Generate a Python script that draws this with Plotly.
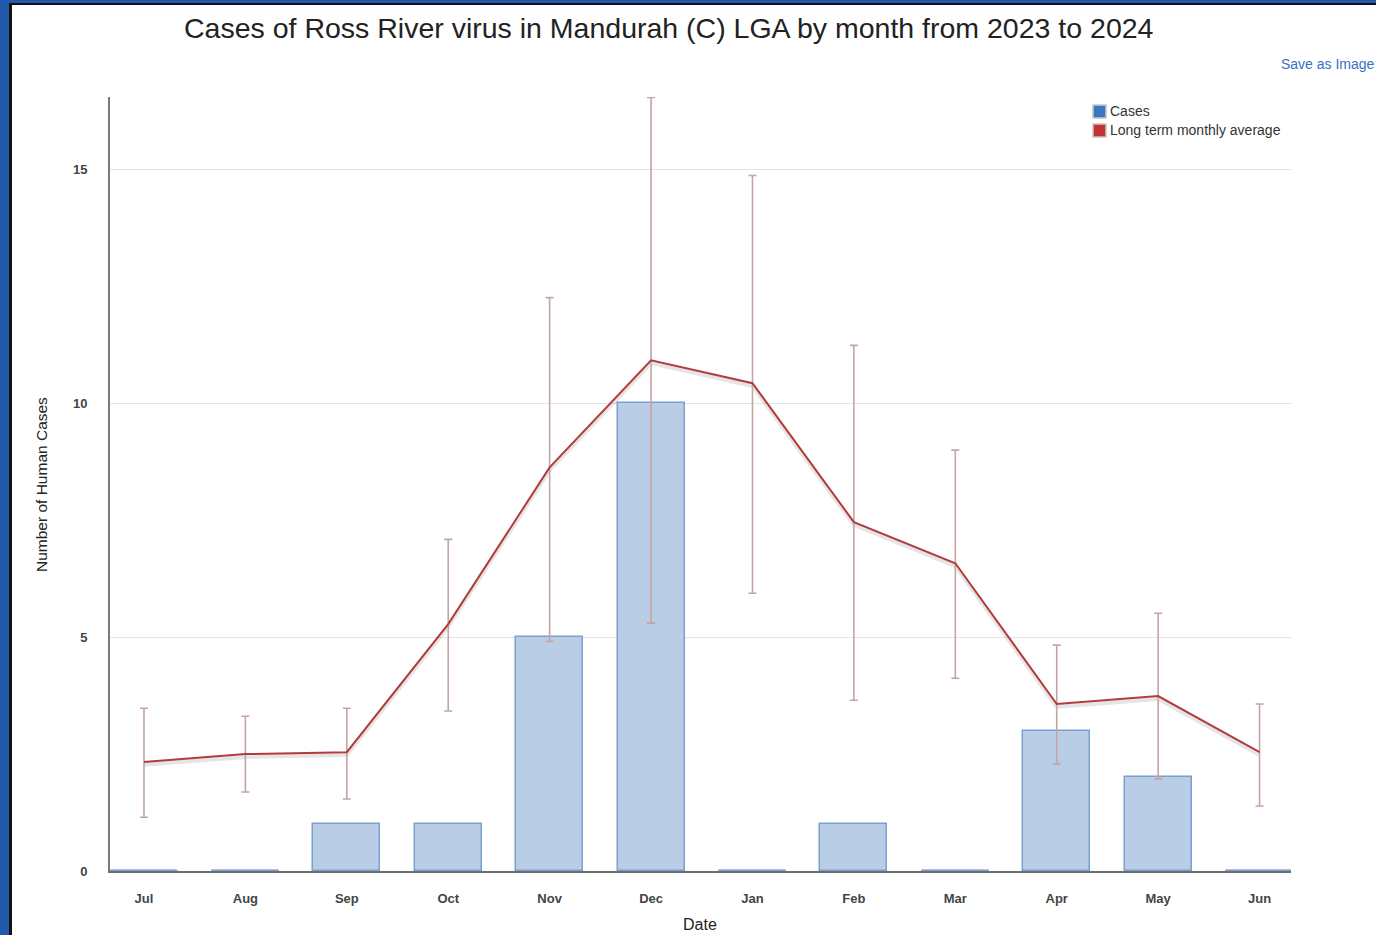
import numpy as np
import plotly.graph_objects as go

months = ["Jul", "Aug", "Sep", "Oct", "Nov", "Dec", "Jan", "Feb", "Mar", "Apr", "May", "Jun"]
cases = [0, 0, 1, 1, 5, 10, 0, 1, 0, 3, 2, 0]
long_term_avg = [2.33, 2.50, 2.54, 5.28, 8.63, 10.92, 10.43, 7.46, 6.58, 3.57, 3.74, 2.54]
avg_upper = [3.48, 3.31, 3.48, 7.09, 12.26, 16.54, 14.87, 11.24, 9.00, 4.83, 5.51, 3.57]
avg_lower = [1.15, 1.69, 1.54, 3.42, 4.91, 5.30, 5.94, 3.65, 4.12, 2.29, 1.97, 1.39]
y_ticks = [0, 5, 10, 15]

W, H = 1376, 935
L, R, T, B = 110, 1291, 97, 871


def px2x(px):
    return (px - L) / (R - L)


def py2y(py):
    return (B - py) / (B - T)


idx = np.arange(len(months))
avg = np.array(long_term_avg)
err_plus = np.array(avg_upper) - avg
err_minus = avg - np.array(avg_lower)

BAR_FILL = "#b9cde6"
BAR_LINE = "#7b9fcf"
LINE_COL = "#b23b3b"
ERR_COL = "#c4a4a4"
BAR_W = 0.66
FONT = "Liberation Sans"

fig = go.Figure()

fig.add_trace(go.Bar(
    x=idx, y=cases, width=BAR_W,
    marker=dict(color=BAR_FILL, line=dict(color=BAR_LINE, width=1.5)),
    showlegend=False, hoverinfo="skip",
))

# zero-value bars are drawn as a thin baseline segment
zx, zy = [], []
for i, c in zip(idx, cases):
    if c == 0:
        zx += [i - BAR_W / 2, i + BAR_W / 2, None]
        zy += [c, c, None]
fig.add_trace(go.Scatter(
    x=zx, y=zy, mode="lines", line=dict(color=BAR_LINE, width=2.5),
    showlegend=False, hoverinfo="skip", cliponaxis=False,
))

# faint shadow under the average line
fig.add_trace(go.Scatter(
    x=idx, y=avg - 0.06, mode="lines",
    line=dict(color="rgba(0,0,0,0.10)", width=4),
    showlegend=False, hoverinfo="skip",
))

fig.add_trace(go.Scatter(
    x=idx, y=avg, mode="lines",
    line=dict(color=LINE_COL, width=2),
    error_y=dict(type="data", symmetric=False, array=err_plus, arrayminus=err_minus,
                 color=ERR_COL, thickness=1.6, width=4),
    showlegend=False, hoverinfo="skip",
))

fig.update_xaxes(
    range=[-0.335, 11.31], tickmode="array", tickvals=idx, ticktext=months,
    showgrid=False, zeroline=False, showline=True, linecolor="#6e6e6e", linewidth=2,
    ticks="", tickfont=dict(family=FONT, size=13, color="#444", weight="bold"),
    ticklabelstandoff=14,
)
fig.update_yaxes(
    range=[0, 16.55], tickmode="array", tickvals=y_ticks,
    showgrid=True, gridcolor="#e3e3e3", gridwidth=1, zeroline=False,
    showline=True, linecolor="#7a7a7a", linewidth=2, ticks="",
    tickfont=dict(family=FONT, size=13, color="#444", weight="bold"),
    ticklabelstandoff=18,
)

shapes = [
    # page frame (blue band with dark inner edge)
    dict(type="rect", xref="paper", yref="paper", x0=px2x(0), x1=px2x(9), y0=py2y(H), y1=py2y(0),
         fillcolor="#2259ac", line_width=0, layer="above"),
    dict(type="rect", xref="paper", yref="paper", x0=px2x(9), x1=px2x(12), y0=py2y(H), y1=py2y(0),
         fillcolor="#111111", line_width=0, layer="above"),
    dict(type="rect", xref="paper", yref="paper", x0=px2x(0), x1=px2x(W), y0=py2y(3), y1=py2y(0),
         fillcolor="#2259ac", line_width=0, layer="above"),
    dict(type="rect", xref="paper", yref="paper", x0=px2x(9), x1=px2x(W), y0=py2y(5), y1=py2y(3),
         fillcolor="#111111", line_width=0, layer="above"),
    # legend swatches
    dict(type="rect", xref="paper", yref="paper", x0=px2x(1093), x1=px2x(1106), y0=py2y(118), y1=py2y(105),
         fillcolor="#3c78c2", line=dict(color="#c8c8c8", width=1.5)),
    dict(type="rect", xref="paper", yref="paper", x0=px2x(1093), x1=px2x(1106), y0=py2y(137), y1=py2y(124),
         fillcolor="#c23434", line=dict(color="#c8c8c8", width=1.5)),
]

annotations = [
    dict(text="Cases of Ross River virus in Mandurah (C) LGA by month from 2023 to 2024",
         xref="paper", yref="paper", x=px2x(669), y=py2y(28), xanchor="center", yanchor="middle",
         showarrow=False, font=dict(family=FONT, size=28.5, color="#222")),
    dict(text="Save as Image", xref="paper", yref="paper", x=px2x(1279), y=py2y(64),
         xanchor="left", yanchor="middle", showarrow=False,
         font=dict(family=FONT, size=14, color="#3a6fc4")),
    dict(text="Cases", xref="paper", yref="paper", x=px2x(1108), y=py2y(111),
         xanchor="left", yanchor="middle", showarrow=False,
         font=dict(family=FONT, size=14, color="#333")),
    dict(text="Long term monthly average", xref="paper", yref="paper", x=px2x(1108), y=py2y(130),
         xanchor="left", yanchor="middle", showarrow=False,
         font=dict(family=FONT, size=14, color="#333")),
    dict(text="Number of Human Cases", xref="paper", yref="paper", x=px2x(42), y=py2y(485),
         xanchor="center", yanchor="middle", textangle=-90, showarrow=False,
         font=dict(family=FONT, size=15.5, color="#222")),
    dict(text="Date", xref="paper", yref="paper", x=px2x(700), y=py2y(925),
         xanchor="center", yanchor="middle", showarrow=False,
         font=dict(family=FONT, size=16, color="#222")),
]

fig.update_layout(
    width=W, height=H,
    margin=dict(l=L, r=W - R, t=T, b=H - B, pad=0),
    paper_bgcolor="white", plot_bgcolor="white",
    bargap=0, showlegend=False,
    shapes=shapes, annotations=annotations,
)

fig.write_html(
    "out.html",
    config={"displayModeBar": False},
    post_script="document.body.style.margin='0';document.body.style.overflow='hidden';",
)
